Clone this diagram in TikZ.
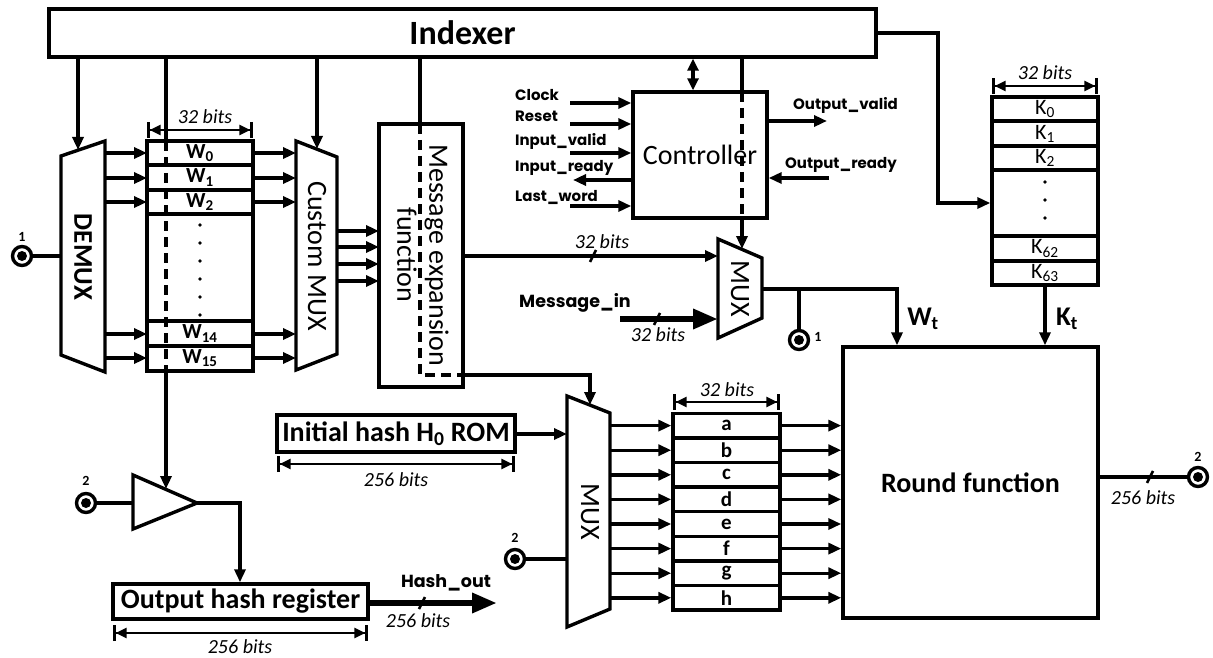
\documentclass[tikz,border=0pt]{standalone}
\usepackage{fontspec}
\setmainfont{Carlito}
\newfontfamily\geo{Poppins}
\usetikzlibrary{arrows.meta,calc}
\newcommand\busslash[1]{\draw[slash] ($(#1)+(-3,6)$) -- ($(#1)+(3,-6)$);}
\begin{document}
\begin{tikzpicture}[x=1pt,y=-1pt,
  ln/.style={line width=3.4pt},
  arr/.style={line width=3.4pt,-{Triangle[length=13pt,width=11pt]}},
  darr/.style={line width=3.4pt,{Triangle[length=12pt,width=11pt]}-{Triangle[length=12pt,width=11pt]}},
  dsh/.style={line width=3.4pt,dash pattern=on 10pt off 6pt},
  dimarr/.style={line width=2.6pt,{Bar[width=16pt,line width=2.6pt]Triangle[length=11pt,width=10pt]}-{Triangle[length=11pt,width=10pt]Bar[width=16pt,line width=2.6pt]}},
  bigarr/.style={line width=6.5pt,-{Triangle[length=25pt,width=19pt]}},
  box/.style={draw,line width=3.4pt,inner sep=0pt,rectangle},
  reg/.style={box,minimum width=106pt},
  big/.style={font=\fontsize{28}{32}\selectfont},
  bigb/.style={font=\fontsize{28}{32}\selectfont\bfseries},
  bits/.style={font=\fontsize{20}{24}\selectfont\itshape,inner sep=0pt},
  regt/.style={font=\fontsize{21.5}{24}\selectfont\bfseries},
  kt/.style={font=\fontsize{22}{24}\selectfont},
  sig/.style={font=\geo\bfseries\fontsize{15}{17}\selectfont,anchor=west,inner sep=0pt},
  sigb/.style={font=\geo\bfseries\fontsize{17.5}{20}\selectfont,inner sep=0pt},
  pnum/.style={font=\fontsize{14}{16}\selectfont\bfseries,inner sep=0pt},
  port/.style={circle,draw,line width=3.4pt,minimum size=19pt,inner sep=0pt,
    path picture={\fill (path picture bounding box.center) circle (5pt);}},
  slash/.style={line width=2.6pt},
]
\useasboundingbox (0,0) rectangle (1213,658);

% ---------- Indexer ----------
\node[box,minimum width=827pt,minimum height=48pt,font=\fontsize{34}{40}\selectfont\bfseries] (idx) at (462.5,33) {Indexer};

% ---------- DEMUX ----------
\draw[ln] (61,156) -- (105,141) -- (105,372) -- (61,355) -- cycle;
\node[rotate=-90,font=\fontsize{27}{32}\selectfont\bfseries] (demuxt) at (83,257) {DEMUX};
\node[port] (p1a) at (22,256) {};
\node[pnum] at (22,237) {1};
\draw[ln] (p1a.east) -- (61,256);

% ---------- W register ----------
\node[reg,minimum height=24pt,regt] (w0) at (200,153) {W\textsubscript{0}};
\node[reg,minimum height=25pt,regt] (w1) at (200,177.5) {W\textsubscript{1}};
\node[reg,minimum height=24pt,regt] (w2) at (200,202) {W\textsubscript{2}};
\node[reg,minimum height=107pt] (wd) at (200,267.5) {};
\node[reg,minimum height=25pt,regt] (w14) at (200,333.5) {W\textsubscript{14}};
\node[reg,minimum height=25pt,regt] (w15) at (200,358.5) {W\textsubscript{15}};
\foreach \y in {225,243,261,279,297,315} \fill (200,\y) circle (1.9pt);
\draw[dimarr] (147,130) -- (253,130);
\node[bits] at (205,117) {32 bits};

\foreach \y in {153,178,202,334,358} {
  \draw[arr] (105,\y) -- (147,\y);
  \draw[arr] (253,\y) -- (296,\y);
}

% ---------- Custom MUX ----------
\draw[ln] (296,141) -- (337,157) -- (337,354) -- (296,370) -- cycle;
\node[rotate=-90,big] (cmuxt) at (317,256) {Custom MUX};
\foreach \y in {231,247,264,281} \draw[arr] (337,\y) -- (379,\y);

% ---------- Message expansion ----------
\node[box,minimum width=84pt,minimum height=263pt] (mex) at (421,255.5) {};
\node[rotate=-90,big,align=center] (mext) at (423,255) {Message expansion\\function};

% ---------- Controller ----------
\node[box,minimum width=134pt,minimum height=126pt,big] (ctrl) at (700,155) {Controller};
\node[sig] (clk) at (515,95) {Clock};
\node[sig] (rst) at (515,116) {Reset};
\node[sig] (iv) at (515,141) {Input\_valid};
\node[sig] (ir) at (515,168) {Input\_ready};
\node[sig] (lw) at (515,197) {Last\_word};
\draw[arr] (570,103) -- (ctrl.west |- 0,103);
\draw[arr] (570,124) -- (ctrl.west |- 0,124);
\draw[arr] (570,153) -- (ctrl.west |- 0,153);
\draw[arr] (ctrl.west |- 0,180) -- (573,180);
\draw[arr] (570,206) -- (ctrl.west |- 0,206);
\node[sig] (ov) at (793,105) {Output\_valid};
\node[sig] (ordy) at (785,165) {Output\_ready};
\draw[arr] (ctrl.east |- 0,121) -- (827,121);
\draw[arr] (829,178) -- (ctrl.east |- 0,178);

% ---------- Top MUX ----------
\draw[ln] (718,239) -- (762,258) -- (762,318) -- (718,338) -- cycle;
\node[rotate=-90,big] (tmuxt) at (740,289) {MUX};
\draw[arr] (mex.east |- 0,256) -- (718,256);
\busslash{593,256}
\node[bits] at (602,242) {32 bits};
\node[sigb] (min) at (575,303) {Message\_in};
\draw[bigarr] (620,319) -- (718,319);
\busslash{657,319}
\node[bits] at (658,335) {32 bits};
\node[port] (p1b) at (799,340) {};
\node[pnum] at (818,337) {1};
\draw[ln] (799,289) -- (p1b.north);

% ---------- K register ----------
\node[reg,minimum height=24pt,kt] (k0) at (1045,109) {K\textsubscript{0}};
\node[reg,minimum height=25pt,kt] (k1) at (1045,133.5) {K\textsubscript{1}};
\node[reg,minimum height=24pt,kt] (k2) at (1045,158) {K\textsubscript{2}};
\node[reg,minimum height=66pt] (kd) at (1045,203) {};
\node[reg,minimum height=25pt,kt] (k62) at (1045,248.5) {K\textsubscript{62}};
\node[reg,minimum height=24pt,kt] (k63) at (1045,273) {K\textsubscript{63}};
\foreach \y in {182,200,218} \fill (1045,\y) circle (1.9pt);
\draw[dimarr] (992,86) -- (1098,86);
\node[bits] at (1045,73) {32 bits};

% ---------- Round function ----------
\node[box,minimum width=255pt,minimum height=271pt,bigb] (round) at (970.5,482.5) {Round function};
\draw[arr] (762,289) -- (897,289) -- (round.north -| 897,0);
\node[font=\fontsize{27}{30}\selectfont\bfseries] (wt) at (923,319) {W\textsubscript{t}};
\draw[arr] (k63.south) -- (round.north -| k63.south);
\node[font=\fontsize{27}{30}\selectfont\bfseries] (ktl) at (1067,319) {K\textsubscript{t}};
\node[port] (p2d) at (1198,477) {};
\node[pnum] at (1198,457) {2};
\draw[ln] (round.east |- 0,477) -- (p2d.west);
\busslash{1150,477}
\node[bits] at (1143,498) {256 bits};

% ---------- Indexer connections ----------
\draw[arr] (idx.south -| 78,0) -- (78,150);
\draw[ln] (idx.south -| 166,0) -- (166,141);
\draw[dsh] (166,141) -- (166,371);
\draw[arr] (idx.south -| 317,0) -- (317,149);
\draw[ln] (idx.south -| 420,0) -- (mex.north -| 420,0);
\draw[dsh] (420,124) -- (420,375) -- (463,375);
\draw[arr] (mex.east |- 0,375) -- (590,375) -- (590,405);
\draw[darr] (idx.south -| 693,0) -- (ctrl.north -| 693,0);
\draw[ln] (idx.south -| 742,0) -- (ctrl.north -| 742,0);
\draw[dsh] (742,92) -- (742,218);
\draw[arr] (742,218) -- (742,249);
\draw[arr] (idx.east |- 0,33) -- (938,33) -- (938,203) -- (kd.west |- 0,203);

% ---------- Buffer and output hash ----------
\draw[ln] (133,475) -- (197,503) coordinate (bufo) -- (133,529) -- cycle;
\draw[arr] (166,371) -- (166,489);
\node[port] (p2a) at (86,503) {};
\node[pnum] at (86,481) {2};
\draw[ln] (p2a.east) -- (133,503);
\node[box,minimum width=255pt,minimum height=35pt,bigb] (ohr) at (240.5,601.5) {Output hash register};
\draw[arr] (bufo) -- (240,503) -- (ohr.north -| 240,0);
\draw[dimarr] (113,633) -- (368,633);
\node[bits] at (240,647) {256 bits};
\draw[bigarr] (ohr.east |- 0,603) -- (497,603);
\busslash{422,603}
\node[sigb] (hout) at (446,583) {Hash\_out};
\node[bits] at (418,621) {256 bits};

% ---------- Initial hash ROM ----------
\node[box,minimum width=238pt,minimum height=37pt,bigb] (rom) at (396,433.5) {Initial hash H\textsubscript{0} ROM};
\draw[dimarr] (277,464) -- (515,464);
\node[bits] at (396,480) {256 bits};

% ---------- Lower MUX ----------
\draw[ln] (567,396) -- (610,413) -- (610,609) -- (567,627) -- cycle;
\node[rotate=-90,big] (lmuxt) at (590,512) {MUX};
\draw[arr] (rom.east |- 0,434) -- (567,434);
\node[port] (p2b) at (515,559) {};
\node[pnum] at (515,538) {2};
\draw[ln] (p2b.east) -- (567,559);

% ---------- a..h register ----------
\foreach \l [count=\i from 0] in {a,b,c,d,e,f,g,h} {
  \pgfmathsetmacro\yy{425.6+24.6*\i}
  \node[reg,minimum width=107pt,minimum height=24.6pt,font=\fontsize{21}{22}\selectfont\bfseries] (reg\l) at (726.5,\yy) {\l};
  \draw[arr] (610,\yy) -- (reg\l.west);
  \draw[arr] (reg\l.east) -- (round.west |- reg\l.east);
}
\draw[dimarr] (673,402) -- (780,402);
\node[bits] at (727,390) {32 bits};
\end{tikzpicture}
\end{document}
